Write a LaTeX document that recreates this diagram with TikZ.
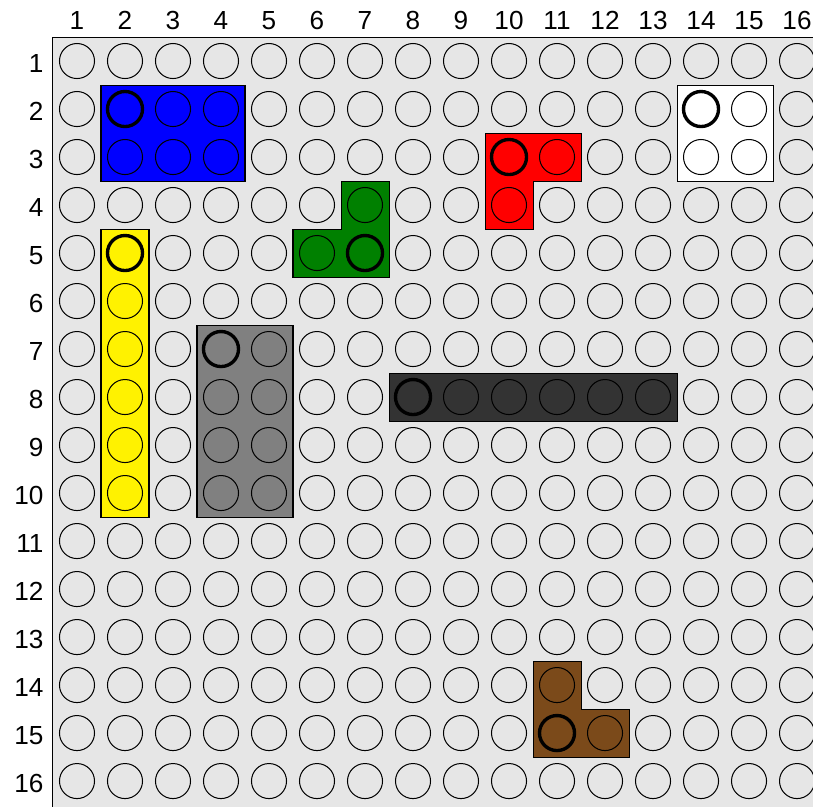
\documentclass[tikz,border=0pt]{standalone}
\usepackage{fontspec}
\setmainfont{Liberation Sans}
\usepackage{xcolor}
\usepackage{tikz}
\usetikzlibrary{positioning}
\definecolor{plate}{HTML}{E6E6E6}
\definecolor{brickgreen}{HTML}{008000}
\definecolor{brickdark}{HTML}{333333}
\definecolor{brickgray}{HTML}{808080}
\definecolor{brickbrown}{RGB}{123,74,26}

\begin{document}
\begin{tikzpicture}[
      x=1cm, y=-1cm,
      stud/.style={draw, line width=0.6pt},
      lead/.style={draw, line width=2pt},
      brick/.style={draw, line width=0.6pt},
      idx/.style={font=\fontsize{15.5pt}{17pt}\selectfont, inner sep=0pt},
    ]
    \useasboundingbox (-0.604,-0.271) rectangle (16.333,16.52);
    % base plate
    \draw[fill=plate, line width=0.6pt] (0.5,0.5) rectangle (16.9,16.9);
    \foreach \c in {1,...,16}
      \foreach \r in {1,...,16}
        \draw[stud] (\c,\r) circle (0.365);
    % column and row numbers
    \foreach \c in {1,...,16}
      \node[idx] (col\c) at (\c,0.16) {\c};
    \foreach \r in {1,...,16}
      \node[idx, anchor=east] (row\r) at (0.31,\r+0.05) {\r};
    % blue 2x3
    \draw[brick, fill=blue] (1.5,1.5) rectangle (4.5,3.5);
    \foreach \c in {2,3,4}
      \foreach \r in {2,3}
        \draw[stud] (\c,\r) circle (0.365);
    \draw[lead] (2,2) circle (0.365);
    % white 2x2
    \draw[brick, fill=white] (13.5,1.5) rectangle (15.5,3.5);
    \foreach \c in {14,15}
      \foreach \r in {2,3}
        \draw[stud] (\c,\r) circle (0.365);
    \draw[lead] (14,2) circle (0.365);
    % red corner
    \draw[brick, fill=red] (9.5,2.5) -- (11.5,2.5) -- (11.5,3.5) -- (10.5,3.5)
      -- (10.5,4.5) -- (9.5,4.5) -- cycle;
    \foreach \p in {(10,3),(11,3),(10,4)}
      \draw[stud] \p circle (0.365);
    \draw[lead] (10,3) circle (0.365);
    % green corner
    \draw[brick, fill=brickgreen] (6.5,3.5) -- (7.5,3.5) -- (7.5,5.5) -- (5.5,5.5)
      -- (5.5,4.5) -- (6.5,4.5) -- cycle;
    \foreach \p in {(7,4),(6,5),(7,5)}
      \draw[stud] \p circle (0.365);
    \draw[lead] (7,5) circle (0.365);
    % yellow 1x6
    \draw[brick, fill=yellow] (1.5,4.5) rectangle (2.5,10.5);
    \foreach \r in {5,...,10}
      \draw[stud] (2,\r) circle (0.365);
    \draw[lead] (2,5) circle (0.365);
    % gray 2x4
    \draw[brick, fill=brickgray] (3.5,6.5) rectangle (5.5,10.5);
    \foreach \c in {4,5}
      \foreach \r in {7,...,10}
        \draw[stud] (\c,\r) circle (0.365);
    \draw[lead] (4,7) circle (0.365);
    % dark 6x1
    \draw[brick, fill=brickdark] (7.5,7.5) rectangle (13.5,8.5);
    \foreach \c in {8,...,13}
      \draw[stud] (\c,8) circle (0.365);
    \draw[lead] (8,8) circle (0.365);
    % brown corner
    \draw[brick, fill=brickbrown] (10.5,13.5) -- (11.5,13.5) -- (11.5,14.5) -- (12.5,14.5)
      -- (12.5,15.5) -- (10.5,15.5) -- cycle;
    \foreach \p in {(11,14),(11,15),(12,15)}
      \draw[stud] \p circle (0.365);
    \draw[lead] (11,15) circle (0.365);
  \end{tikzpicture}
\end{document}
